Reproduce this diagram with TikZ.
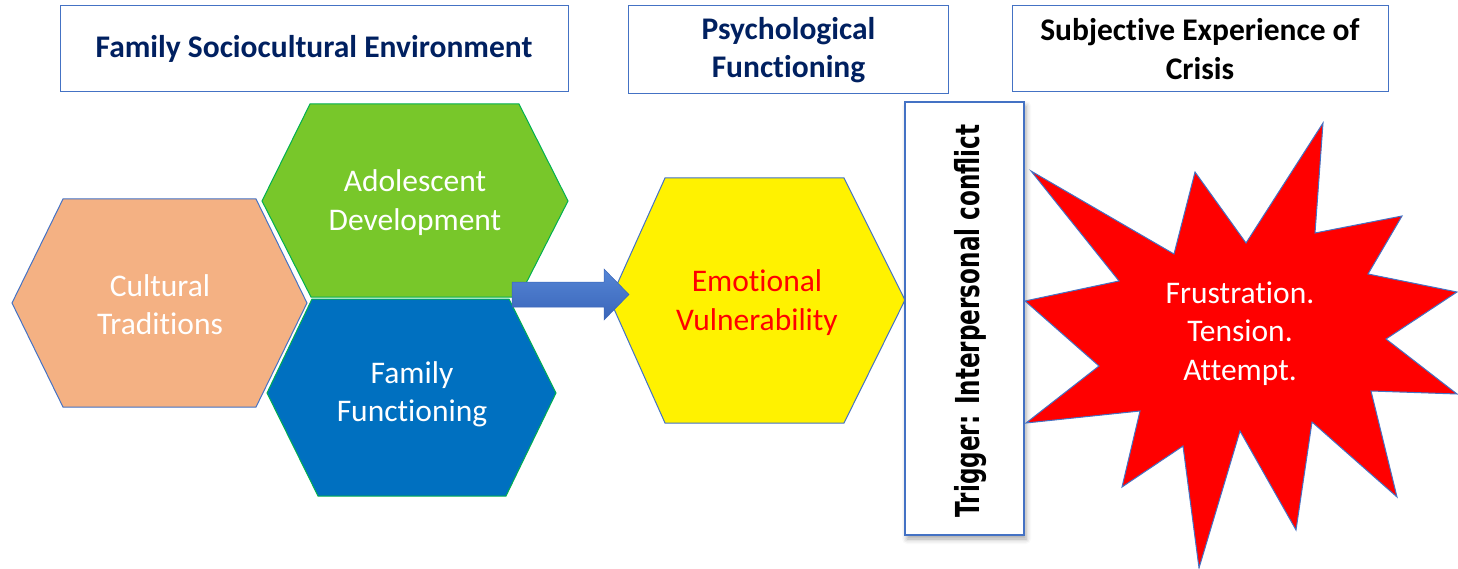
\documentclass[tikz,border=0pt]{standalone}
\usepackage{fontspec}
\setmainfont[Ligatures=NoCommon]{Carlito}
\newfontfamily\trigfont{DejaVu Sans}
\usetikzlibrary{positioning,calc,shadows.blur}

\definecolor{hdrnavy}{HTML}{002060}
\definecolor{lineblue}{HTML}{4472C4}
\definecolor{linegreen}{HTML}{00B050}
\definecolor{salmon}{HTML}{F4B183}
\definecolor{leafgreen}{HTML}{78C72A}
\definecolor{deepblue}{HTML}{0070C0}
\definecolor{arrowtop}{HTML}{5586D6}
\definecolor{arrowbot}{HTML}{3A65B9}

\newcommand{\bigtext}{\fontsize{31.5}{38.5}\selectfont}

\tikzset{
  hdrbox/.style={draw=lineblue, line width=1, fill=white, align=center,
    inner sep=0, font=\bigtext\bfseries},
  hextext/.style={align=center, text=white, font=\bigtext},
}

\begin{document}
\begin{tikzpicture}[x=1pt,y=-1pt]
  \useasboundingbox (0,0) rectangle (1458,569);

  % header boxes
  \node[hdrbox, text=hdrnavy, minimum width=508, minimum height=86] (famenv) at (314,49) {Family Sociocultural Environment};
  \node[hdrbox, text=hdrnavy, minimum width=320, minimum height=88] (psych) at (788.5,50) {Psychological\\Functioning};
  \node[hdrbox, text=black, minimum width=376, minimum height=86] (crisis) at (1200,49) {Subjective Experience of\\Crisis};

  % hexagons
  \draw[draw=lineblue, line width=1, fill=salmon] (12,303) -- (63,199) -- (256,199) -- (307,303) -- (256,407) -- (63,407) -- cycle;
  \node[hextext] (cultural) at (160,304.5) {Cultural\\Traditions};
  \draw[draw=linegreen, line width=1, fill=leafgreen] (262,201) -- (310,104) -- (519,104) -- (568,201) -- (519,297) -- (311,297) -- cycle;
  \node[hextext] (adolescent) at (415,202.5) {Adolescent\\Development};
  \draw[draw=linegreen, line width=1, fill=deepblue] (267,393) -- (312,299) -- (509,299) -- (556,393) -- (506,496) -- (318,496) -- cycle;
  \node[hextext] (famfunc) at (412,394.5) {Family\\Functioning};
  \draw[draw=lineblue, line width=1, fill=yellow] (610,300) -- (665,178) -- (844,178) -- (905,300) -- (844,423) -- (665,423) -- cycle;
  \node[hextext, text=red] (emotional) at (757,302.5) {Emotional\\Vulnerability};

  % block arrow
  \coordinate (arrowstart) at (512,294.5);
  \coordinate (arrowend) at (629,294.5);
  \shade[top color=arrowtop, bottom color=arrowbot, draw=arrowbot, line width=0.5]
    (arrowstart) ++(0,-12.5) -- ++(92,0) -- ++(0,-13) -- (arrowend) -- ++(-25,25.5) -- ++(0,-13) -- ++(-92,0) -- cycle;

  % trigger box
  \node[draw=lineblue, line width=1.5, fill=white, minimum width=119, minimum height=433,
    blur shadow={shadow xshift=2pt, shadow yshift=-4pt, shadow blur radius=5pt, shadow opacity=35}] (trigger) at (964.5,318.5) {};
  \node[rotate=90, font=\trigfont\fontsize{33}{40}\selectfont\bfseries] (trigtext) at (971,321) {\scalebox{0.7}[1]{Trigger: Interpersonal conflict}};

  % starburst
  \draw[draw=lineblue, line width=1, fill=red]
    (1323,123) -- (1315,233) -- (1402,216) -- (1368,274) -- (1457,292) -- (1386,339)
    -- (1457,394) -- (1371,391) -- (1397,497) -- (1312,422) -- (1296,530) -- (1240,431)
    -- (1199,568) -- (1183,446) -- (1122,487) -- (1140,411) -- (1026,423) -- (1099,366)
    -- (1025,301) -- (1119,281) -- (1031,171) -- (1174,254) -- (1195,172) -- (1246,243) -- cycle;
  \node[hextext] (feelings) at (1240,333.5) {Frustration.\\Tension.\\Attempt.};
\end{tikzpicture}
\end{document}
